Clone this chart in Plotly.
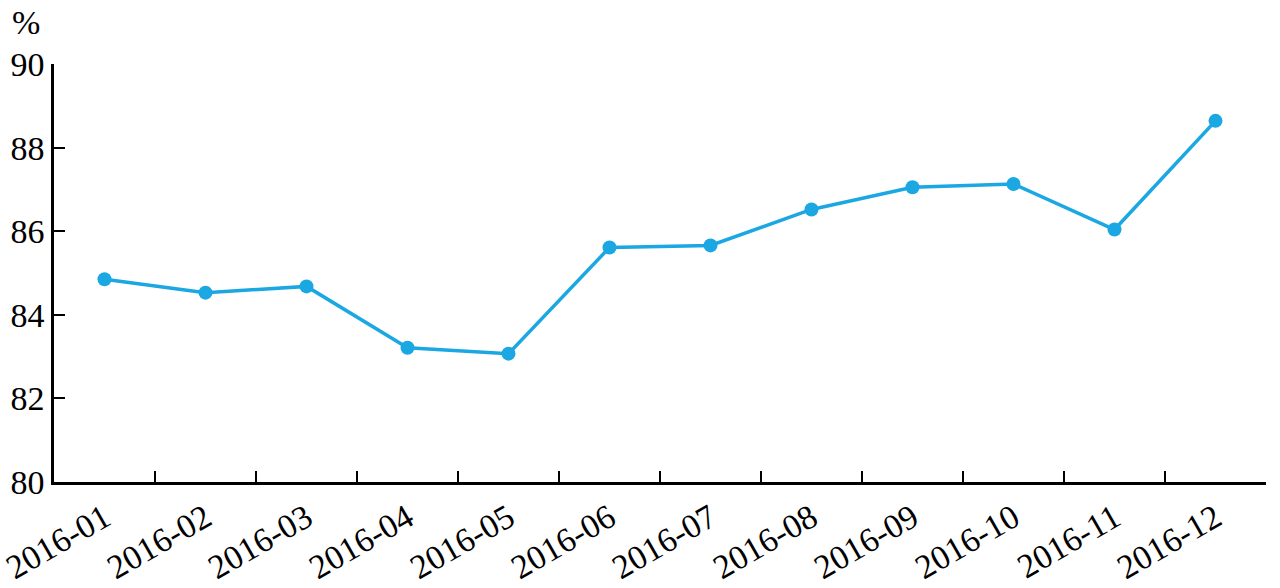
import plotly.graph_objects as go

months = ["2016-01", "2016-02", "2016-03", "2016-04", "2016-05", "2016-06",
          "2016-07", "2016-08", "2016-09", "2016-10", "2016-11", "2016-12"]
values = [84.85, 84.53, 84.68, 83.21, 83.07, 85.61, 85.66, 86.52, 87.05, 87.13, 86.04, 88.64]
y_ticks = [80, 82, 84, 86, 88, 90]

FONT = "Liberation Serif, Times New Roman, serif"
COLOR = "#1BA7E2"

fig = go.Figure()
fig.add_trace(go.Scatter(
    x=months, y=values, mode="lines+markers",
    line=dict(color=COLOR, width=3.5),
    marker=dict(color=COLOR, size=14),
    showlegend=False,
))

fig.update_layout(
    width=1280, height=588,
    margin=dict(l=54, r=14, t=64, b=106),
    plot_bgcolor="white", paper_bgcolor="white",
    font=dict(family=FONT, size=34, color="black"),
    xaxis=dict(
        type="category", automargin=False,
        range=[-0.5, len(months) - 0.5],
        showline=True, linecolor="black", linewidth=2.5,
        ticks="inside", ticklen=11, tickwidth=2, tickcolor="black",
        tickson="boundaries",
        tickangle=-30,
        showgrid=False, zeroline=False,
        tickfont=dict(family=FONT, size=34),
    ),
    yaxis=dict(
        range=[80, 90], tickvals=y_ticks, automargin=False,
        showline=True, linecolor="black", linewidth=2.5,
        ticks="inside", ticklen=11, tickwidth=2, tickcolor="black",
        showgrid=False, zeroline=False,
        tickfont=dict(family=FONT, size=34),
    ),
    annotations=[dict(
        text="%", xref="paper", yref="paper",
        x=-0.023, y=1.10, xanchor="center", yanchor="middle",
        showarrow=False, font=dict(family=FONT, size=34),
    )],
)

fig.write_html(
    "out.html",
    config={"displayModeBar": False},
    post_script="document.body.style.margin='0';document.body.style.overflow='hidden';",
)
